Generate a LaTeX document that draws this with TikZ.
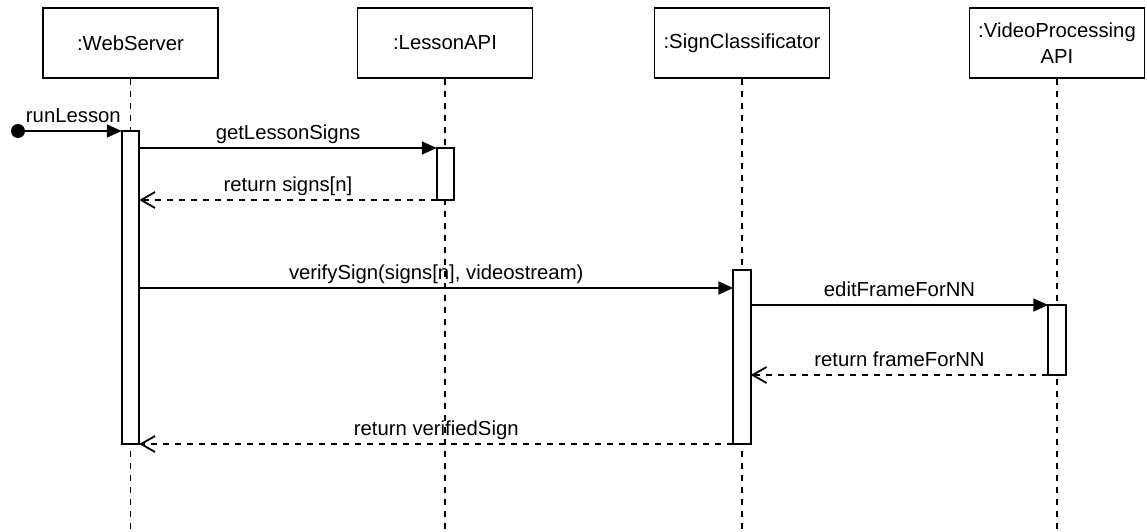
\documentclass[tikz,border=0pt]{standalone}
\usepackage{fontspec}
\setmainfont{Liberation Sans}
\usetikzlibrary{arrows.meta}

\tikzset{
  head/.style={draw, line width=1.8pt, minimum width=175pt, minimum height=70pt,
    align=center, inner sep=2pt},
  lifeline/.style={line width=1.8pt, dash pattern=on 6pt off 6pt},
  activation/.style={draw, fill=white, line width=1.8pt, minimum width=17.5pt,
    inner sep=0pt, outer sep=0pt},
  call/.style={line width=1.8pt, -{Triangle[length=15pt,width=13pt]}},
  reply/.style={line width=1.8pt, dash pattern=on 6pt off 6pt,
    -{Straight Barb[length=14pt,width=16pt]}},
  msg/.style={above, midway, text height=14.5pt, text depth=4.3pt, inner sep=3.5pt}
}

\begin{document}
\begin{tikzpicture}[x=1pt, y=-1pt, font=\fontsize{20.3pt}{26pt}\selectfont]
\useasboundingbox (0,0) rectangle (1147,532);
\coordinate (bottom) at (0,532);

\foreach \n/\t/\x in {web/{:WebServer}/130.5, lesson/{:LessonAPI}/445,
    sign/{:SignClassificator}/742, video/{:VideoProcessing\\API}/1057}
  \node [head] (head-\n) at (\x,43) {\t};

\foreach \n in {web,lesson,sign,video}
  \draw [lifeline] (head-\n.south) -- (head-\n.south |- bottom);

\foreach \n/\x/\y/\h in {web/130.5/287.5/313, lesson/445.5/174/52,
    sign/742/357/174, video/1057/340/70}
  \node [activation, minimum height=\h pt] (\n-act) at (\x,\y) {};

% found message into the web server
\node [circle, fill, inner sep=0pt, outer sep=0pt, minimum size=14pt] (start) at (18,131) {};
\draw [call] (start) -- (web-act.north west)
    node [msg] {runLesson};

\draw [call] (web-act.east |- lesson-act.north) -- (lesson-act.north west)
    node [msg] {getLessonSigns};
\draw [reply] (lesson-act.south west) -- (web-act.east |- lesson-act.south)
    node [msg] {return signs[n]};

\coordinate (verify) at (0,288);
\draw [call] (web-act.east |- verify) -- (sign-act.west |- verify)
    node [msg] {verifySign(signs[n], videostream)};

\draw [call] (sign-act.east |- video-act.north) -- (video-act.north west)
    node [msg] {editFrameForNN};
\draw [reply] (video-act.south west) -- (sign-act.east |- video-act.south)
    node [msg] {return frameForNN};

\draw [reply] (sign-act.south west) -- (web-act.south east)
    node [msg] {return verifiedSign};
\end{tikzpicture}
\end{document}
